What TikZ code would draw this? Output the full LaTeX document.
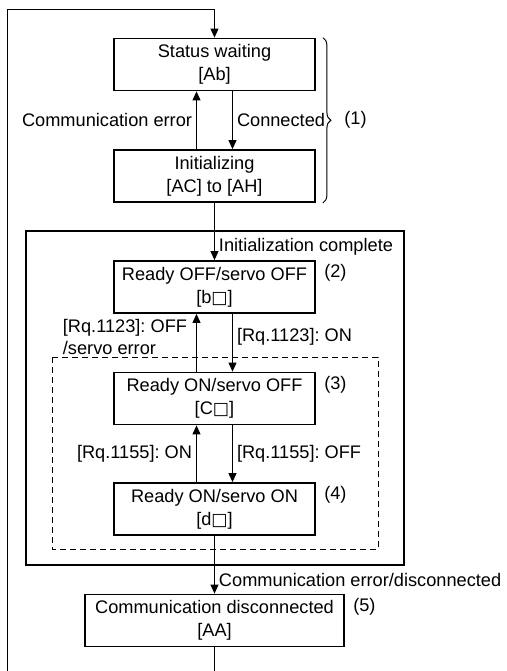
\documentclass[tikz,border=0pt]{standalone}
\usepackage{fontspec}
\setmainfont{Liberation Sans}
\newfontfamily\symfont{DejaVu Sans}
\usetikzlibrary{arrows.meta,positioning,calc,decorations.pathreplacing}
\newcommand{\sq}{{\symfont\fontsize{8.6}{11}\selectfont □}}
\frenchspacing

\tikzset{
  state/.style={draw, line width=0.9pt, minimum width=100.5pt, minimum height=26pt,
    align=center, inner sep=0pt, font=\fontsize{9.1}{11.5}\selectfont},
  flow/.style={line width=0.5pt, -{Triangle[length=4.5pt,width=4pt]}},
  lbl/.style={font=\fontsize{9.1}{11}\selectfont, inner sep=2pt},
  grp/.style={decorate, decoration={brace, amplitude=4pt}, line width=0.5pt},
}

\begin{document}
\begin{tikzpicture}[x=0.5pt, y=-0.5pt]
  \useasboundingbox (0,0) rectangle (507,671);
  \clip (0,0) rectangle (507,671);

  % state boxes
  \node[state] (wait) at (214.5,64.5) {Status waiting\\{}[Ab]};
  \node[state] (init) at (214.5,176) {Initializing\\{}[AC] to [AH]};
  \node[state] (rdyoff) at (214.5,287) {Ready OFF/servo OFF\\{}[b\sq]};
  \node[state] (rdyon) at (214.5,398.5) {Ready ON/servo OFF\\{}[C\sq]};
  \node[state] (srvon) at (214.5,509) {Ready ON/servo ON\\{}[d\sq]};
  \node[state, minimum width=129.5pt] (disc) at (214.5,620.5) {Communication disconnected\\{}[AA]};

  % group frames
  \draw[line width=0.9pt] (25.7,231) rectangle (404,565);
  \draw[dash pattern=on 3pt off 2pt, line width=0.5pt] (52,357) rectangle (378,549);

  % transitions
  \draw[flow] ([xshift=-9pt]init.north) -- node[lbl, left] {Communication error} ([xshift=-9pt]wait.south);
  \draw[flow] ([xshift=9pt]wait.south) -- node[lbl, right] {Connected} ([xshift=9pt]init.north);
  \draw[flow] (init.south) -- node[lbl, right, pos=0.76] {Initialization complete} (rdyoff.north);
  \draw[flow] ([xshift=-9pt]rdyon.north) -- node[lbl, left, align=left, pos=0.6, xshift=-2.5pt] {[Rq.1123]: OFF\\/servo error} ([xshift=-9pt]rdyoff.south);
  \draw[flow] ([xshift=9pt]rdyoff.south) -- node[lbl, right, pos=0.4] {[Rq.1123]: ON} ([xshift=9pt]rdyon.north);
  \draw[flow] ([xshift=-9pt]srvon.north) -- node[lbl, left] {[Rq.1155]: ON} ([xshift=-9pt]rdyon.south);
  \draw[flow] ([xshift=9pt]rdyon.south) -- node[lbl, right] {[Rq.1155]: OFF} ([xshift=9pt]srvon.north);
  \draw[flow] (srvon.south) -- node[lbl, right, pos=0.76] {Communication error/disconnected} (disc.north);
  \draw[flow] (disc.south) -- ++(0,60) -| (7.5,9.5) -| (wait.north);

  % numbering
  \draw[grp] ([xshift=3.5pt]wait.north east) -- node[lbl, right=8.5pt] {(1)} ([xshift=3.5pt]init.south east);
  \node[lbl, anchor=north west] (n2) at ([xshift=2pt]rdyoff.north east) {(2)};
  \node[lbl, anchor=north west] (n3) at ([xshift=2pt]rdyon.north east) {(3)};
  \node[lbl, anchor=north west] (n4) at ([xshift=2pt]srvon.north east) {(4)};
  \node[lbl, anchor=north west] (n5) at ([xshift=2pt]disc.north east) {(5)};
\end{tikzpicture}
\end{document}
